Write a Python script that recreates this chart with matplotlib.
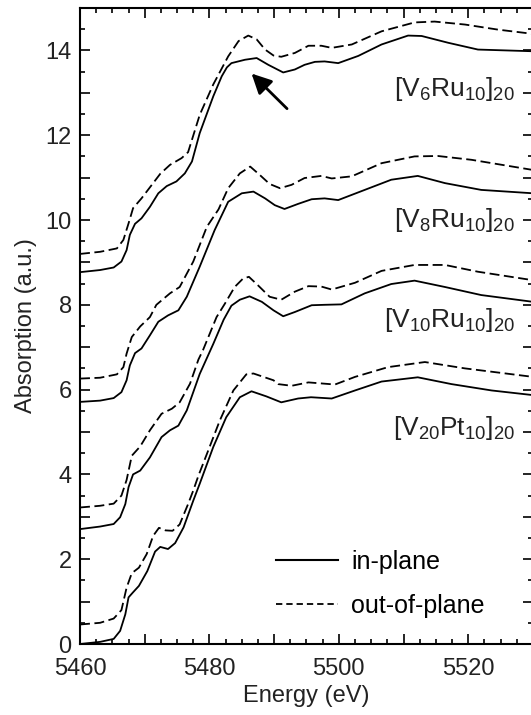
import numpy as np
import matplotlib.pyplot as plt
from matplotlib.ticker import MultipleLocator, FuncFormatter
from matplotlib.lines import Line2D

plt.rcParams['font.family'] = ['Liberation Sans', 'DejaVu Sans']
plt.rcParams['mathtext.default'] = 'regular'

# energies (eV) and absorption (a.u.), one pair per curve
e_v6_in = [5460.0, 5463.1, 5465.2, 5466.4, 5467.2, 5467.7, 5468.5, 5469.5, 5470.8, 5472.1,
           5473.4, 5474.9, 5476.2, 5477.3, 5478.5, 5480.6, 5481.9, 5482.7, 5483.4, 5485.5,
           5487.3, 5489.1, 5491.4, 5493.2, 5494.7, 5496.3, 5497.8, 5499.9, 5503.0, 5506.6,
           5510.7, 5512.8, 5516.9, 5521.5, 5530.0]
a_v6_in = [8.77, 8.82, 8.88, 9.02, 9.29, 9.65, 9.91, 10.04, 10.31, 10.63,
           10.80, 10.91, 11.10, 11.38, 12.05, 12.92, 13.39, 13.60, 13.70, 13.78,
           13.82, 13.66, 13.48, 13.55, 13.66, 13.73, 13.74, 13.70, 13.87, 14.14,
           14.35, 14.34, 14.18, 14.02, 13.98]
e_v6_out = [5460.0, 5463.1, 5465.7, 5466.7, 5467.5, 5468.2, 5469.5, 5471.1, 5472.4, 5473.9,
            5475.7, 5476.7, 5478.5, 5480.6, 5482.9, 5484.5, 5486.0, 5487.3, 5488.6, 5489.9,
            5491.1, 5493.2, 5495.3, 5497.3, 5498.9, 5502.0, 5506.6, 5511.7, 5514.8, 5519.5,
            5524.6, 5530.0]
a_v6_out = [9.20, 9.25, 9.33, 9.53, 9.92, 10.28, 10.51, 10.83, 11.09, 11.30,
            11.46, 11.60, 12.48, 13.20, 13.86, 14.22, 14.35, 14.26, 14.02, 13.88,
            13.85, 13.94, 14.11, 14.11, 14.06, 14.14, 14.45, 14.66, 14.68, 14.61,
            14.49, 14.39]

e_v8_in = [5460.0, 5463.1, 5465.2, 5466.4, 5467.2, 5467.7, 5468.5, 5469.5, 5470.8, 5472.1,
           5473.6, 5475.2, 5476.5, 5478.5, 5480.8, 5482.9, 5485.0, 5486.8, 5488.6, 5490.1,
           5491.6, 5493.7, 5495.8, 5497.8, 5499.9, 5504.0, 5508.1, 5512.2, 5516.4, 5522.0,
           5530.0]
a_v8_in = [5.71, 5.74, 5.80, 5.94, 6.22, 6.57, 6.86, 6.97, 7.28, 7.60,
           7.75, 7.87, 8.19, 8.90, 9.76, 10.43, 10.63, 10.67, 10.51, 10.35,
           10.26, 10.38, 10.49, 10.51, 10.47, 10.71, 10.95, 11.04, 10.87, 10.71,
           10.63]
e_v8_out = [5460.0, 5463.1, 5465.7, 5466.7, 5467.2, 5468.0, 5469.3, 5470.8, 5471.8, 5473.9,
            5475.4, 5477.5, 5479.6, 5481.4, 5482.9, 5484.7, 5486.3, 5487.8, 5489.3, 5490.9,
            5492.7, 5494.7, 5497.3, 5498.9, 5502.0, 5506.6, 5511.7, 5515.3, 5520.5, 5530.0]
a_v8_out = [6.26, 6.28, 6.36, 6.53, 6.85, 7.24, 7.49, 7.71, 8.00, 8.27,
            8.42, 9.02, 9.84, 10.25, 10.75, 11.10, 11.26, 11.06, 10.85, 10.75,
            10.83, 10.99, 11.04, 10.98, 11.03, 11.34, 11.50, 11.51, 11.42, 11.18]

e_v10_in = [5460.0, 5463.1, 5465.2, 5466.2, 5467.0, 5467.5, 5468.2, 5469.3, 5470.8, 5472.6,
            5473.9, 5475.2, 5476.5, 5478.5, 5480.6, 5482.2, 5483.4, 5484.7, 5486.2, 5488.1,
            5489.9, 5491.4, 5493.2, 5495.8, 5497.8, 5500.4, 5504.0, 5508.1, 5511.7, 5516.4,
            5522.0, 5530.0]
a_v10_in = [2.71, 2.77, 2.83, 2.99, 3.30, 3.70, 4.00, 4.09, 4.40, 4.88,
            5.04, 5.15, 5.51, 6.37, 7.08, 7.65, 7.98, 8.12, 8.20, 8.07,
            7.87, 7.73, 7.83, 7.99, 8.00, 8.01, 8.27, 8.49, 8.57, 8.42,
            8.23, 8.07]
e_v10_out = [5460.0, 5463.1, 5465.2, 5466.4, 5467.2, 5468.0, 5469.3, 5470.8, 5472.6, 5474.2,
             5475.4, 5477.0, 5478.3, 5479.0, 5481.1, 5482.4, 5483.9, 5485.2, 5486.1, 5487.5,
             5489.3, 5491.1, 5493.2, 5495.3, 5497.3, 5498.9, 5502.5, 5506.6, 5511.7, 5516.4,
             5521.5, 5530.0]
a_v10_out = [3.22, 3.26, 3.31, 3.50, 3.87, 4.44, 4.66, 5.04, 5.43, 5.55,
             5.70, 6.14, 6.71, 6.93, 7.71, 8.03, 8.42, 8.62, 8.66, 8.46,
             8.19, 8.12, 8.31, 8.44, 8.43, 8.36, 8.52, 8.80, 8.94, 8.94,
             8.78, 8.58]

e_v20_in = [5460.0, 5463.1, 5465.2, 5466.2, 5467.0, 5467.5, 5468.2, 5469.1, 5470.4, 5471.6,
            5472.4, 5473.6, 5474.7, 5476.0, 5477.5, 5478.5, 5480.6, 5482.6, 5484.7, 5486.5,
            5488.8, 5491.1, 5493.7, 5495.7, 5498.9, 5502.5, 5506.6, 5512.2, 5517.4, 5523.6,
            5530.0]
a_v20_in = [0.0, 0.05, 0.12, 0.31, 0.70, 1.10, 1.22, 1.37, 1.72, 2.18,
            2.29, 2.24, 2.38, 2.75, 3.38, 3.78, 4.65, 5.35, 5.82, 5.96,
            5.84, 5.70, 5.79, 5.82, 5.79, 5.98, 6.19, 6.29, 6.13, 5.98,
            5.87]
e_v20_out = [5460.0, 5463.1, 5465.2, 5466.4, 5467.2, 5468.0, 5469.1, 5470.3, 5471.3, 5472.2,
             5473.2, 5474.3, 5475.4, 5476.7, 5477.5, 5478.3, 5479.6, 5481.6, 5483.7, 5485.7,
             5486.8, 5489.9, 5490.6, 5492.7, 5495.3, 5499.4, 5502.5, 5507.6, 5513.3, 5519.5,
             5530.0]
a_v20_out = [0.46, 0.50, 0.60, 0.80, 1.33, 1.67, 1.80, 2.12, 2.55, 2.74,
             2.68, 2.67, 2.82, 3.30, 3.62, 3.97, 4.48, 5.27, 5.98, 6.36,
             6.38, 6.22, 6.13, 6.09, 6.17, 6.12, 6.30, 6.53, 6.65, 6.50,
             6.30]

samples = [r'[V$_6$Ru$_{10}$]$_{20}$', r'[V$_8$Ru$_{10}$]$_{20}$',
           r'[V$_{10}$Ru$_{10}$]$_{20}$', r'[V$_{20}$Pt$_{10}$]$_{20}$']
label_y = [13.1, 10.0, 7.65, 5.1]

curves = [(e_v6_in, a_v6_in, e_v6_out, a_v6_out),
          (e_v8_in, a_v8_in, e_v8_out, a_v8_out),
          (e_v10_in, a_v10_in, e_v10_out, a_v10_out),
          (e_v20_in, a_v20_in, e_v20_out, a_v20_out)]

fig = plt.figure(figsize=(5.31, 7.15), dpi=100)
ax = fig.add_axes([0.1507, 0.0993, 0.853, 0.8895])

for i in range(len(curves)):
    e_in, a_in, e_out, a_out = curves[i]
    ax.plot(e_in, a_in, color='k', lw=1.3, solid_joinstyle='round')
    ax.plot(e_out, a_out, color='k', lw=1.3, dashes=(5.5, 2.5))
    ax.text(5527.2, label_y[i], samples[i], ha='right', va='center', fontsize=19, color='#222222')

ax.annotate('', xy=(5486.2, 13.5), xytext=(5492.3, 12.58),
            arrowprops=dict(arrowstyle='-|>', lw=2, color='k', mutation_scale=30))

h1 = Line2D([], [], color='k', lw=1.5)
h2 = Line2D([], [], color='k', lw=1.3, dashes=(3.5, 2.2))
ax.legend([h1, h2], ['in-plane', 'out-of-plane'], frameon=False, fontsize=18,
          loc='lower left', bbox_to_anchor=(0.383, 0.006), handlelength=2.5,
          handletextpad=0.5, labelspacing=0.8)

ax.set_xlim(5460, 5530)
ax.set_ylim(0, 15)
ax.xaxis.set_major_locator(MultipleLocator(10))
ax.xaxis.set_minor_locator(MultipleLocator(2.5))
ax.yaxis.set_major_locator(MultipleLocator(1))
ax.yaxis.set_minor_locator(MultipleLocator(0.5))
ax.xaxis.set_major_formatter(FuncFormatter(lambda v, p: '%d' % v if int(round(v)) % 20 == 0 else ''))
ax.yaxis.set_major_formatter(FuncFormatter(lambda v, p: '%d' % v if int(round(v)) % 2 == 0 else ''))
ax.tick_params(which='both', direction='in', top=True, right=True, labelsize=17,
               labelcolor='#222222', width=1.2)
ax.tick_params(which='major', length=7)
ax.tick_params(axis='y', which='major', pad=6)
ax.tick_params(axis='x', which='major', pad=10)
ax.tick_params(which='minor', length=3.5)
for s in ax.spines.values():
    s.set_linewidth(1.5)

ax.set_xlabel('Energy (eV)', fontsize=17, color='#222222', labelpad=4)
ax.set_ylabel('Absorption (a.u.)', fontsize=17, color='#222222', labelpad=6)

fig.savefig('out.png', dpi=100)
